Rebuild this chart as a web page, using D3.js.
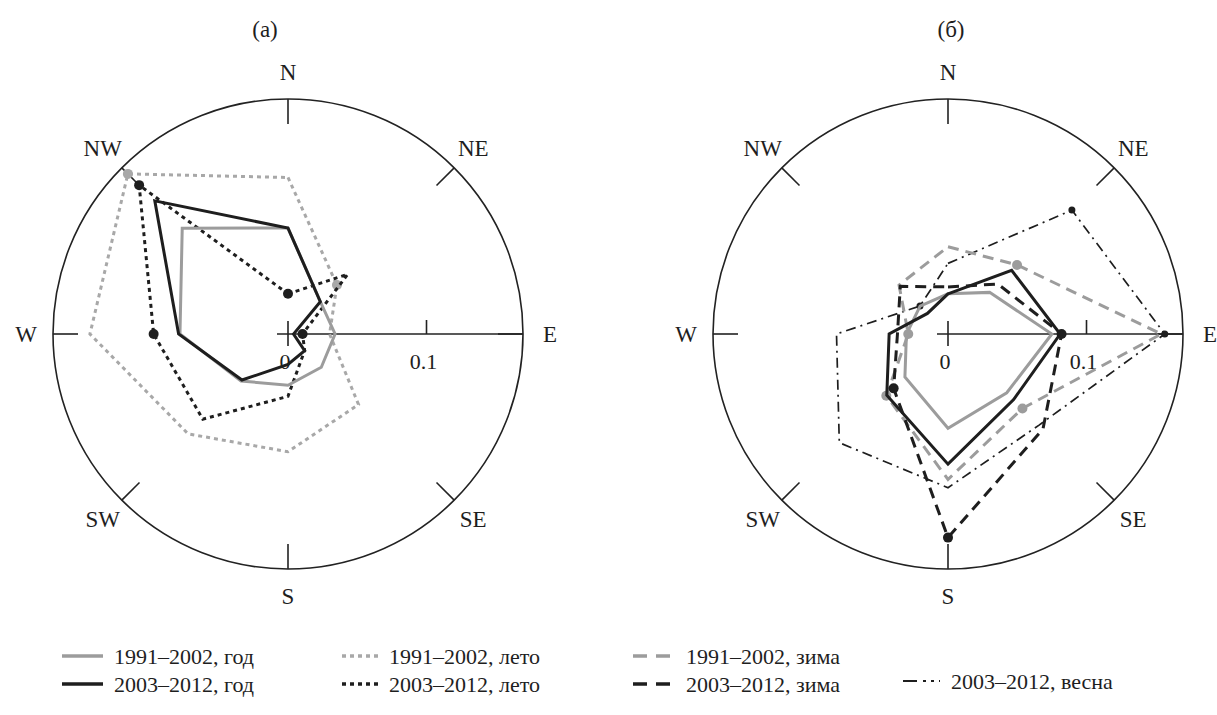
<!DOCTYPE html>
<html>
<head>
<meta charset="utf-8">
<script src="https://cdn.jsdelivr.net/npm/d3@7"></script>
<style>
  html, body { margin: 0; padding: 0; background: #fff; }
  svg { display: block; }
  text { font-family: "Liberation Serif", "DejaVu Serif", serif; fill: #1e1e1e; }
</style>
</head>
<body>
<svg id="chart" width="1217" height="715"></svg>
<script>
// ---------- data ----------
const directions = ["N", "NE", "E", "SE", "S", "SW", "W", "NW"];
const panelTitles = ["(а)", "(б)"];
const tickValues = [0, 0.1];
const tickLabels = ["0", "0.1"];

// panel (а)
const god1991_a  = [0.0765, 0.033, 0.034, 0.034, 0.037, 0.048, 0.078, 0.108];
const god2003_a  = [0.0765, 0.033, 0.004, 0.017, 0.022, 0.047, 0.079, 0.136];
const leto1991_a = [0.113, 0.050, 0.030, 0.072, 0.085, 0.102, 0.143, 0.1635];
const leto2003_a = [0.029, 0.061, 0.0105, 0.017, 0.045, 0.087, 0.097, 0.152];
const leto1991_a_marks = ["NE", "NW"];
const leto2003_a_marks = ["N", "E", "W", "NW"];

// panel (б)
const god1991_b   = [0.029, 0.0425, 0.075, 0.060, 0.068, 0.044, 0.030, 0.0285];
const god2003_b   = [0.029, 0.065, 0.081, 0.067, 0.094, 0.0625, 0.0425, 0.021];
const zima1991_b  = [0.063, 0.0705, 0.154, 0.076, 0.105, 0.063, 0.0287, 0.050];
const zima2003_b  = [0.034, 0.051, 0.082, 0.097, 0.147, 0.0555, 0.0365, 0.0487];
const vesna2003_b = [0.051, 0.1265, 0.1565, 0.093, 0.111, 0.111, 0.0805, 0.0286];
const zima1991_b_marks  = ["NE", "SE", "SW", "W"];
const zima2003_b_marks  = ["E", "S", "SW"];
const vesna2003_b_marks = ["NE", "E", "NW"];

const legendLabels = [
  "1991–2002, год", "2003–2012, год",
  "1991–2002, лето", "2003–2012, лето",
  "1991–2002, зима", "2003–2012, зима",
  "2003–2012, весна"
];

// ---------- styles ----------
const GRAY = "#9c9c9c", BLACK = "#1e1e1e";
const styles = {
  god1991:   { color: GRAY,  dash: null,         width: 3,   dot: 5 },
  god2003:   { color: BLACK, dash: null,         width: 3,   dot: 5 },
  leto1991:  { color: "#a8a8a8", dash: "4,4",    width: 3,   dot: 5 },
  leto2003:  { color: BLACK, dash: "4,4",        width: 3,   dot: 5 },
  zima1991:  { color: GRAY,  dash: "11,7",       width: 3,   dot: 5 },
  zima2003:  { color: BLACK, dash: "11,7",       width: 3,   dot: 5 },
  vesna2003: { color: BLACK, dash: "10,5,2,5",   width: 1.7, dot: 3.5 }
};

const panelA = [
  { key: "leto1991", values: leto1991_a, marks: leto1991_a_marks },
  { key: "leto2003", values: leto2003_a, marks: leto2003_a_marks },
  { key: "god1991",  values: god1991_a,  marks: [] },
  { key: "god2003",  values: god2003_a,  marks: [] }
];
const panelB = [
  { key: "vesna2003", values: vesna2003_b, marks: vesna2003_b_marks },
  { key: "god1991",   values: god1991_b,   marks: [] },
  { key: "zima1991",  values: zima1991_b,  marks: zima1991_b_marks },
  { key: "god2003",   values: god2003_b,   marks: [] },
  { key: "zima2003",  values: zima2003_b,  marks: zima2003_b_marks }
];

// ---------- layout ----------
const svg = d3.select("#chart");
const R = 235;
const rScale = d3.scaleLinear().domain([0, 0.17]).range([0, 235.45]);
const angle = d3.scaleOrdinal().domain(directions).range(directions.map((d, i) => i * Math.PI / 4));

function pt(dir, r) {
  const a = angle(dir);
  return [r * Math.sin(a), -r * Math.cos(a)];
}

function drawPanel(cx, cy, title, titleX, series) {
  const g = svg.append("g").attr("transform", `translate(${cx},${cy})`);

  // title
  svg.append("text").attr("x", titleX).attr("y", 29)
    .attr("text-anchor", "middle").attr("dominant-baseline", "central")
    .attr("font-size", 23).text(title);

  // outer circle
  g.append("circle").attr("r", R).attr("fill", "none")
    .attr("stroke", "#222").attr("stroke-width", 1.6);

  // direction ticks + labels
  directions.forEach(d => {
    const [x1, y1] = pt(d, R);
    const [x2, y2] = pt(d, R - 25);
    g.append("line").attr("x1", x1).attr("y1", y1).attr("x2", x2).attr("y2", y2)
      .attr("stroke", "#222").attr("stroke-width", 1.6);
    const [lx, ly] = pt(d, 262);
    g.append("text").attr("x", lx).attr("y", ly)
      .attr("text-anchor", "middle").attr("dominant-baseline", "central")
      .attr("font-size", 23).text(d);
  });

  // radial axis (toward E)
  const [ex] = pt("E", R);
  g.append("line").attr("x1", -11).attr("y1", 0).attr("x2", ex).attr("y2", 0)
    .attr("stroke", "#222").attr("stroke-width", 1.6);
  g.append("line").attr("x1", 0).attr("y1", -13).attr("x2", 0).attr("y2", 12)
    .attr("stroke", "#222").attr("stroke-width", 1.6);
  tickValues.forEach((v, i) => {
    const x = rScale(v);
    if (v !== 0) {
      g.append("line").attr("x1", x).attr("y1", 0).attr("x2", x).attr("y2", -14)
        .attr("stroke", "#222").attr("stroke-width", 1.6);
    }
    g.append("text").attr("x", x - 3).attr("y", 27)
      .attr("text-anchor", "middle").attr("dominant-baseline", "central")
      .attr("font-size", 22).text(tickLabels[i]);
  });

  // series
  const line = d3.lineRadial()
    .angle((v, i) => angle(directions[i]))
    .radius(v => rScale(v))
    .curve(d3.curveLinearClosed);

  series.forEach(s => {
    const st = styles[s.key];
    g.append("path").attr("d", line(s.values))
      .attr("fill", "none").attr("stroke", st.color)
      .attr("stroke-width", st.width)
      .attr("stroke-linejoin", "miter")
      .attr("stroke-dasharray", st.dash);
    s.marks.forEach(m => {
      const i = directions.indexOf(m);
      const [x, y] = pt(m, rScale(s.values[i]));
      g.append("circle").attr("cx", x).attr("cy", y).attr("r", st.dot)
        .attr("fill", st.color);
    });
  });
}

drawPanel(288, 334, panelTitles[0], 265, panelA);
drawPanel(948, 334, panelTitles[1], 951, panelB);

// ---------- legend ----------
const legendItems = [
  { key: "god1991",   label: legendLabels[0], x: 62,  y: 656 },
  { key: "god2003",   label: legendLabels[1], x: 62,  y: 684 },
  { key: "leto1991",  label: legendLabels[2], x: 342, y: 656 },
  { key: "leto2003",  label: legendLabels[3], x: 342, y: 684 },
  { key: "zima1991",  label: legendLabels[4], x: 633, y: 656 },
  { key: "zima2003",  label: legendLabels[5], x: 633, y: 684 },
  { key: "vesna2003", label: legendLabels[6], x: 903, y: 681 }
];
const lg = svg.append("g");
legendItems.forEach(it => {
  const st = styles[it.key];
  const len = it.key.startsWith("god") ? 41 : (it.key.startsWith("leto") ? 36 : 37);
  lg.append("line").attr("x1", it.x).attr("y1", it.y).attr("x2", it.x + len).attr("y2", it.y)
    .attr("stroke", st.color).attr("stroke-width", it.key === "vesna2003" ? 2 : 3.5)
    .attr("stroke-dasharray", it.key === "zima1991" || it.key === "zima2003" ? "14,9" :
          it.key === "vesna2003" ? "14,6,3,5,3,5" : st.dash);
  const tx = it.x + len + (it.key.startsWith("zima") ? 16 : 11);
  lg.append("text").attr("x", tx).attr("y", it.y)
    .attr("dominant-baseline", "central").attr("font-size", 22).text(it.label);
});
</script>
</body>
</html>
